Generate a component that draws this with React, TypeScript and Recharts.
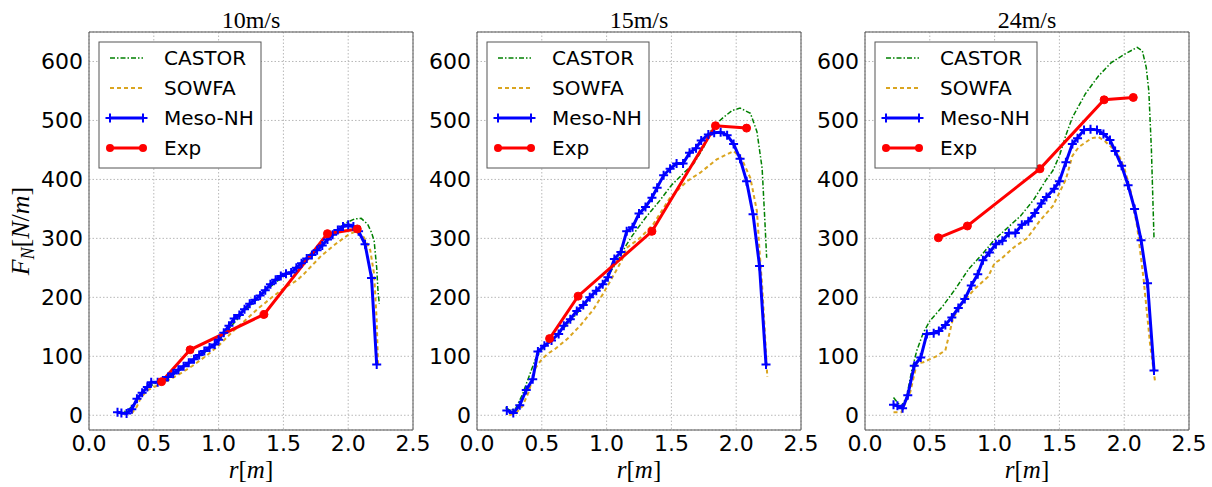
import React from "react";
import {
  LineChart,
  Line,
  XAxis,
  YAxis,
  CartesianGrid,
  ReferenceArea,
} from "recharts";

type Pt = [number, number];

const xTicks = [0, 0.5, 1, 1.5, 2, 2.5];
const yTicks = [0, 100, 200, 300, 400, 500, 600];
const titles = ["10m/s", "15m/s", "24m/s"];
const seriesNames = ["CASTOR", "SOWFA", "Meso-NH", "Exp"];

// 10 m/s
const castor10: Pt[] = [
  [0.22, 3], [0.3, 8], [0.35, 20], [0.4, 35], [0.45, 46], [0.5, 53], [0.6, 62],
  [0.7, 76], [0.8, 92], [0.9, 108], [1.0, 126], [1.1, 152], [1.2, 176],
  [1.3, 198], [1.4, 218], [1.5, 236], [1.6, 252], [1.7, 272], [1.8, 292],
  [1.9, 312], [1.98, 326], [2.05, 333], [2.1, 334], [2.15, 324], [2.18, 310],
  [2.2, 296], [2.22, 250], [2.23, 210], [2.24, 189],
];
const sowfa10: Pt[] = [
  [0.33, 3], [0.37, 15], [0.4, 30], [0.45, 42], [0.5, 48], [0.55, 52],
  [0.6, 58], [0.7, 70], [0.8, 84], [0.9, 100], [1.0, 118], [1.1, 140],
  [1.2, 160], [1.3, 180], [1.4, 198], [1.5, 215], [1.6, 228], [1.66, 240],
  [1.79, 270], [1.9, 290], [2.0, 306], [2.06, 312], [2.12, 302], [2.17, 280],
  [2.2, 239], [2.22, 160], [2.23, 87],
];
const meso10: Pt[] = [
  [0.22, 5], [0.25, 4], [0.29, 3], [0.33, 10], [0.37, 28], [0.41, 38],
  [0.45, 48], [0.48, 56], [0.53, 56], [0.57, 59], [0.61, 65], [0.65, 71],
  [0.69, 77], [0.73, 83], [0.77, 89], [0.81, 95], [0.85, 102], [0.89, 109],
  [0.93, 115], [0.97, 120], [1.0, 128], [1.04, 140], [1.08, 152], [1.12, 164],
  [1.16, 170], [1.2, 180], [1.24, 189], [1.28, 196], [1.32, 203], [1.36, 212],
  [1.4, 222], [1.44, 230], [1.48, 236], [1.52, 240], [1.56, 242], [1.6, 250],
  [1.64, 258], [1.68, 266], [1.72, 272], [1.76, 280], [1.8, 288], [1.84, 298],
  [1.88, 306], [1.92, 314], [1.96, 320], [2.0, 323], [2.04, 320], [2.08, 312],
  [2.13, 290], [2.18, 233], [2.22, 86],
];
const exp10: Pt[] = [
  [0.56, 57], [0.78, 111], [1.35, 171], [1.84, 308], [2.07, 316],
];

// 15 m/s
const castor15: Pt[] = [
  [0.22, 13], [0.26, 8], [0.3, 12], [0.35, 35], [0.4, 65], [0.45, 95],
  [0.5, 112], [0.6, 132], [0.7, 155], [0.8, 180], [0.9, 205], [1.0, 232],
  [1.1, 268], [1.155, 290], [1.2, 305], [1.3, 335], [1.41, 364], [1.5, 390],
  [1.6, 412], [1.67, 426], [1.75, 455], [1.82, 489], [1.9, 505], [1.97, 517],
  [2.03, 521], [2.11, 512], [2.16, 481], [2.2, 419], [2.22, 335], [2.235, 267],
];
const sowfa15: Pt[] = [
  [0.25, 0], [0.3, 4], [0.35, 15], [0.4, 40], [0.45, 80], [0.5, 95],
  [0.55, 105], [0.6, 112], [0.7, 130], [0.8, 153], [0.9, 180], [0.97, 205],
  [1.05, 236], [1.116, 262], [1.155, 284], [1.26, 301], [1.36, 324],
  [1.49, 369], [1.62, 397], [1.72, 411], [1.85, 434], [1.98, 448], [2.04, 436],
  [2.11, 402], [2.16, 346], [2.18, 279], [2.2, 220], [2.22, 145], [2.24, 65],
];
const meso15: Pt[] = [
  [0.23, 8], [0.28, 4], [0.33, 17], [0.38, 43], [0.43, 61], [0.47, 108],
  [0.52, 118], [0.575, 127], [0.63, 138], [0.67, 152], [0.72, 163], [0.77, 177],
  [0.82, 187], [0.87, 200], [0.92, 211], [0.97, 222], [1.01, 234], [1.06, 265],
  [1.11, 277], [1.155, 312], [1.2, 319], [1.25, 342], [1.3, 353], [1.35, 369],
  [1.39, 386], [1.44, 407], [1.49, 418], [1.54, 427], [1.59, 427], [1.64, 445],
  [1.69, 453], [1.73, 466], [1.785, 476], [1.83, 479], [1.88, 480], [1.93, 475],
  [1.98, 460], [2.03, 435], [2.08, 397], [2.13, 341], [2.18, 253], [2.23, 86],
];
const exp15: Pt[] = [
  [0.56, 130], [0.78, 202], [1.35, 312], [1.84, 491], [2.08, 487],
];

// 24 m/s
const castor24: Pt[] = [
  [0.22, 30], [0.25, 22], [0.28, 15], [0.32, 30], [0.36, 75], [0.4, 110],
  [0.45, 140], [0.5, 160], [0.6, 185], [0.7, 215], [0.8, 248], [0.9, 272],
  [1.0, 298], [1.1, 318], [1.2, 338], [1.3, 365], [1.4, 400], [1.45, 415],
  [1.5, 440], [1.55, 475], [1.6, 505], [1.7, 545], [1.8, 575], [1.9, 598],
  [2.0, 612], [2.1, 624], [2.14, 618], [2.17, 590], [2.19, 550], [2.21, 450],
  [2.23, 300],
];
const sowfa24: Pt[] = [
  [0.22, 5], [0.28, 5], [0.35, 40], [0.4, 88], [0.45, 90], [0.55, 100],
  [0.62, 110], [0.68, 165], [0.75, 190], [0.85, 215], [0.95, 235], [1.0, 258],
  [1.05, 265], [1.15, 285], [1.25, 300], [1.35, 330], [1.45, 355], [1.55, 400],
  [1.6, 440], [1.65, 455], [1.75, 470], [1.8, 472], [1.85, 465], [1.95, 445],
  [2.0, 420], [2.05, 380], [2.1, 320], [2.15, 230], [2.2, 120], [2.24, 54],
];
const meso24: Pt[] = [
  [0.22, 18], [0.25, 16], [0.29, 12], [0.33, 34], [0.38, 84], [0.43, 98],
  [0.477, 138], [0.53, 139], [0.57, 143], [0.62, 153], [0.67, 166], [0.72, 182],
  [0.77, 197], [0.82, 220], [0.87, 239], [0.91, 263], [0.96, 276], [1.01, 290],
  [1.06, 296], [1.11, 309], [1.16, 309], [1.21, 323], [1.26, 329], [1.31, 343],
  [1.36, 359], [1.4, 370], [1.46, 384], [1.5, 397], [1.55, 429], [1.6, 460],
  [1.64, 470], [1.69, 484], [1.74, 485], [1.79, 484], [1.84, 477], [1.89, 467],
  [1.93, 448], [1.98, 423], [2.03, 390], [2.08, 350], [2.13, 297], [2.18, 224],
  [2.23, 76],
];
const exp24: Pt[] = [
  [0.566, 301], [0.79, 321], [1.35, 418], [1.845, 535], [2.07, 539],
];

const panels = [
  { castor: castor10, sowfa: sowfa10, meso: meso10, exp: exp10 },
  { castor: castor15, sowfa: sowfa15, meso: meso15, exp: exp15 },
  { castor: castor24, sowfa: sowfa24, meso: meso24, exp: exp24 },
];

const plotLefts = [89, 477, 865];
const PLOT_W = 324;
const PLOT_TOP = 32;
const PLOT_BOTTOM = 430;

const GREEN = "#008000";
const GOLD = "#DAA520";
const BLUE = "#0000FF";
const RED = "#FF0000";

const toXY = (pts: Pt[]) => pts.map(([x, y]) => ({ x, y }));

const tickStyle = { fill: "#000", fontSize: 22, fontFamily: "DejaVu Sans" };

function PlusDot(props: any) {
  const { cx, cy, index } = props;
  if (cx == null || cy == null) return <g key={index} />;
  return (
    <path
      key={index}
      d={`M${cx - 4.5},${cy}h9M${cx},${cy - 4.5}v9`}
      stroke={BLUE}
      strokeWidth={2}
      fill="none"
    />
  );
}

function Panel({ idx }: { idx: number }) {
  const p = panels[idx];
  return (
    <div style={{ position: "absolute", left: plotLefts[idx] - 80, top: 0 }}>
      <LineChart
        width={440}
        height={487}
        margin={{ top: PLOT_TOP, right: 36, bottom: 0, left: 0 }}
      >
        <CartesianGrid stroke="#b8b8b8" strokeDasharray="1.5 2" />
        <XAxis
          type="number"
          dataKey="x"
          domain={[0, 2.5]}
          ticks={xTicks}
          tickFormatter={(v: number) => v.toFixed(1)}
          height={57}
          axisLine={false}
          tickLine={false}
          tickSize={3}
          tickMargin={2}
          tick={tickStyle}
          interval={0}
          allowDataOverflow
        />
        <YAxis
          type="number"
          domain={[-25, 650]}
          ticks={yTicks}
          width={80}
          axisLine={false}
          tickLine={false}
          tickSize={4}
          tickMargin={2}
          tick={tickStyle}
          interval={0}
          allowDataOverflow
        />
        <ReferenceArea
          x1={0}
          x2={2.5}
          y1={-25}
          y2={650}
          fill="none"
          fillOpacity={0}
          stroke="#555"
          strokeWidth={1}
        />
        <Line
          data={toXY(p.castor)}
          dataKey="y"
          type="linear"
          stroke={GREEN}
          strokeWidth={1.5}
          strokeDasharray="5 2 1.5 2"
          dot={false}
          isAnimationActive={false}
        />
        <Line
          data={toXY(p.sowfa)}
          dataKey="y"
          type="linear"
          stroke={GOLD}
          strokeWidth={2}
          strokeDasharray="4 3"
          dot={false}
          isAnimationActive={false}
        />
        <Line
          data={toXY(p.meso)}
          dataKey="y"
          type="linear"
          stroke={BLUE}
          strokeWidth={3}
          dot={PlusDot}
          isAnimationActive={false}
        />
        <Line
          data={toXY(p.exp)}
          dataKey="y"
          type="linear"
          stroke={RED}
          strokeWidth={3}
          dot={{ r: 4, fill: RED, stroke: RED, strokeWidth: 1 }}
          isAnimationActive={false}
        />
      </LineChart>
    </div>
  );
}

function LegendBox({ left }: { left: number }) {
  const bx = left + 10;
  const by = 42;
  const rows = [16, 46, 76, 106];
  const x1 = bx + 11;
  const x2 = bx + 44;
  return (
    <g>
      <rect x={bx} y={by} width={162} height={126} fill="#fff" stroke="#555" strokeWidth={1} />
      <line x1={x1} x2={x2} y1={by + rows[0]} y2={by + rows[0]} stroke={GREEN} strokeWidth={1.5} strokeDasharray="5 2 1.5 2" />
      <line x1={x1} x2={x2} y1={by + rows[1]} y2={by + rows[1]} stroke={GOLD} strokeWidth={2} strokeDasharray="4 3" />
      <line x1={x1} x2={x2} y1={by + rows[2]} y2={by + rows[2]} stroke={BLUE} strokeWidth={3} />
      {[x1, x2].map((x) => (
        <path key={x} d={`M${x - 4.5},${by + rows[2]}h9M${x},${by + rows[2] - 4.5}v9`} stroke={BLUE} strokeWidth={2} />
      ))}
      <line x1={x1} x2={x2} y1={by + rows[3]} y2={by + rows[3]} stroke={RED} strokeWidth={3} />
      {[x1, x2].map((x) => (
        <circle key={x} cx={x} cy={by + rows[3]} r={4} fill={RED} />
      ))}
      {seriesNames.map((name, i) => (
        <text
          key={name}
          x={bx + 65}
          y={by + rows[i]}
          dy="0.36em"
          fontFamily="DejaVu Sans"
          fontSize={20}
          fill="#000"
        >
          {name}
        </text>
      ))}
    </g>
  );
}

export default function App() {
  return (
    <div style={{ position: "relative", width: 1212, height: 487, background: "#fff", overflow: "hidden" }}>
      <style>{"body{margin:0}"}</style>
      {panels.map((_, i) => (
        <Panel key={i} idx={i} />
      ))}
      <svg
        width={1212}
        height={487}
        style={{ position: "absolute", left: 0, top: 0, pointerEvents: "none" }}
      >
        {plotLefts.map((left, i) => (
          <g key={i}>
            <text
              x={left + PLOT_W / 2}
              y={28}
              textAnchor="middle"
              fontFamily="Liberation Serif"
              fontSize={24}
              fill="#000"
            >
              {titles[i]}
            </text>
            <text
              x={left + PLOT_W / 2}
              y={478}
              textAnchor="middle"
              fontFamily="Liberation Serif"
              fontSize={25}
              fill="#000"
            >
              <tspan fontStyle="italic">r</tspan>
              <tspan>[</tspan>
              <tspan fontStyle="italic">m</tspan>
              <tspan>]</tspan>
            </text>
            <LegendBox left={left} />
          </g>
        ))}
        <text
          transform={`translate(29, ${(PLOT_TOP + PLOT_BOTTOM) / 2}) rotate(-90)`}
          textAnchor="middle"
          fontFamily="Liberation Serif"
          fontSize={26}
          fill="#000"
        >
          <tspan fontStyle="italic">F</tspan>
          <tspan fontStyle="italic" fontSize={18} dy={5}>N</tspan>
          <tspan dy={-5}>[</tspan>
          <tspan fontStyle="italic">N</tspan>
          <tspan>/</tspan>
          <tspan fontStyle="italic">m</tspan>
          <tspan>]</tspan>
        </text>
      </svg>
    </div>
  );
}
